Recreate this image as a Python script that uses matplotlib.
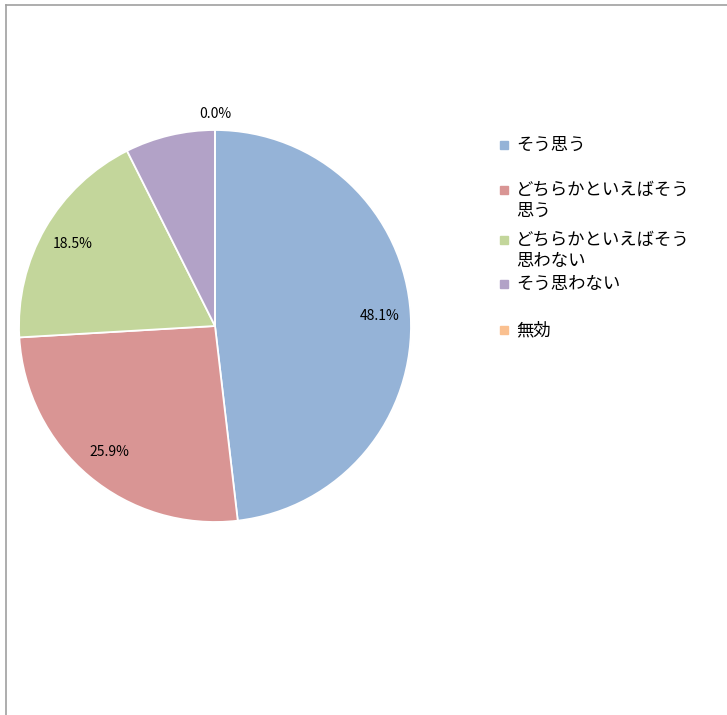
import matplotlib
matplotlib.use('Agg')
import matplotlib.pyplot as plt
import matplotlib.patches as mpatches
import numpy as np

plt.rcParams['font.family'] = ['Noto Sans CJK JP', 'DejaVu Sans']

# データ
labels = ['そう思う', 'どちらかといえばそう\n思う', 'どちらかといえばそう\n思わない', 'そう思わない', '無効']
counts = [13, 7, 5, 2, 0]
colors = ['#95b3d7', '#d99594', '#c3d69b', '#b2a2c7', '#fac090']
show_label = [True, True, True, False, True]

fig = plt.figure(figsize=(7.27, 7.15), dpi=100)
fig.patch.set_facecolor('white')

# 外枠（上と左だけ見える）
fig.add_artist(plt.Line2D([6/727, 1], [1 - 5/715, 1 - 5/715], color='#a0a0a0', lw=1.2))
fig.add_artist(plt.Line2D([6/727, 6/727], [0, 1 - 5/715], color='#a0a0a0', lw=1.2))

# 円グラフ（中心 215,326 半径 196 px）
cx, cy, r = 215, 326, 196
ax = fig.add_axes([(cx - r) / 727, 1 - (cy + r) / 715, 2 * r / 727, 2 * r / 715])
wedges, _ = ax.pie(counts, colors=colors, startangle=90, counterclock=False,
                   wedgeprops=dict(edgecolor='white', linewidth=1.3))
ax.set_aspect('auto')
ax.set_xlim(-1, 1); ax.set_ylim(-1, 1)

total = sum(counts)
for w, c, show in zip(wedges, counts, show_label):
    if not show:
        continue
    ang = np.deg2rad((w.theta1 + w.theta2) / 2)
    d = 1.08 if c == 0 else 0.84
    ax.text(d * np.cos(ang), d * np.sin(ang), f'{c / total * 100:.1f}%',
            ha='center', va='center', fontsize=10, color='black')

# 凡例
leg_y = [145, 190, 240, 284, 330]
for lab, col, y in zip(labels, colors, leg_y):
    fig.add_artist(mpatches.Rectangle((500/727, 1 - (y + 4)/715), 8/727, 8/715,
                                      color=col, transform=fig.transFigure))
    lines = lab.split('\n')
    for k, line in enumerate(lines):
        fig.text(516/727, 1 - (y + 21 * k)/715, line, fontsize=12.5, va='center', ha='left')

plt.savefig('out.png', dpi=100, facecolor='white')
